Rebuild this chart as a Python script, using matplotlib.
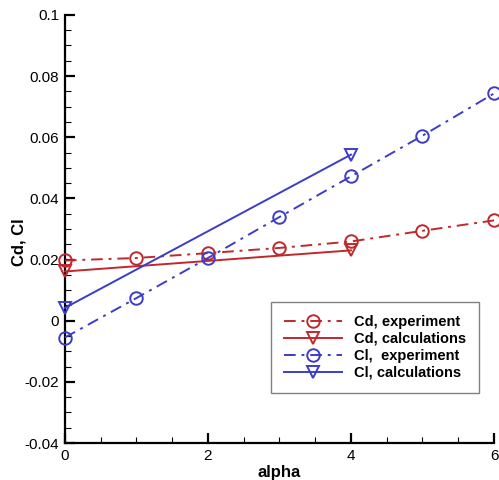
import numpy as np
import matplotlib
matplotlib.use('Agg')
import matplotlib.pyplot as plt
from matplotlib.ticker import MultipleLocator

plt.rcParams['font.family'] = ['Liberation Sans', 'DejaVu Sans']

# data
alpha_exp = [0, 1, 2, 3, 4, 5, 6]
cd_exp = [0.0197, 0.0205, 0.0221, 0.0238, 0.0259, 0.0294, 0.0328]
cl_exp = [-0.0055, 0.0074, 0.0205, 0.0339, 0.0472, 0.0605, 0.0743]

alpha_calc = [0, 4]
cd_calc = [0.0161, 0.0230]
cl_calc = [0.0042, 0.0543]

RED = '#c0282d'
BLUE = '#3c3cc8'
DASHDOT = (0, (6, 3, 1.5, 3))

fig = plt.figure(figsize=(4.99, 4.8), dpi=100)
ax = fig.add_axes([0.130, 0.077, 0.860, 0.892])

ax.plot(alpha_exp, cd_exp, color=RED, ls=DASHDOT, lw=1.4, marker='o', ms=9,
        mfc='none', mew=1.4, clip_on=False, label='Cd, experiment')
ax.plot(alpha_calc, cd_calc, color=RED, ls='-', lw=1.4, marker='v', ms=9,
        mfc='none', mew=1.4, clip_on=False, label='Cd, calculations')
ax.plot(alpha_exp, cl_exp, color=BLUE, ls=DASHDOT, lw=1.4, marker='o', ms=9,
        mfc='none', mew=1.4, clip_on=False, label='Cl,  experiment')
ax.plot(alpha_calc, cl_calc, color=BLUE, ls='-', lw=1.4, marker='v', ms=9,
        mfc='none', mew=1.4, clip_on=False, label='Cl, calculations')

ax.set_xlim(0, 6)
ax.set_ylim(-0.04, 0.1)
ax.xaxis.set_minor_locator(MultipleLocator(0.5))
ax.yaxis.set_minor_locator(MultipleLocator(0.005))
ax.set_yticks([-0.04, -0.02, 0, 0.02, 0.04, 0.06, 0.08, 0.1])
ax.set_yticklabels(['-0.04', '-0.02', '0', '0.02', '0.04', '0.06', '0.08', '0.1'])
ax.set_xticks([0, 2, 4, 6])
ax.set_xticklabels(['0', '2', '4', '6'])

for s in ['top', 'right']:
    ax.spines[s].set_visible(False)
for s in ['left', 'bottom']:
    ax.spines[s].set_linewidth(1.6)
    ax.spines[s].set_zorder(1)
ax.tick_params(which='major', direction='in', length=7, width=1.6, labelsize=11, pad=4)
ax.tick_params(which='minor', direction='in', length=4, width=0.8)

ax.set_xlabel('alpha', fontsize=12, fontweight='bold', labelpad=2)
ax.set_ylabel('Cd, Cl', fontsize=12, fontweight='bold')
ax.yaxis.set_label_coords(-0.089, 0.47)

leg = ax.legend(loc='lower right', bbox_to_anchor=(0.965, 0.117), borderaxespad=0,
                fontsize=10.5, fancybox=False, edgecolor='#808080', framealpha=1,
                handlelength=4.0, borderpad=0.9, labelspacing=0.2, handletextpad=0.8)
for t in leg.get_texts():
    t.set_fontweight('bold')
leg.get_frame().set_linewidth(1.0)

fig.savefig('out.png', dpi=100)
